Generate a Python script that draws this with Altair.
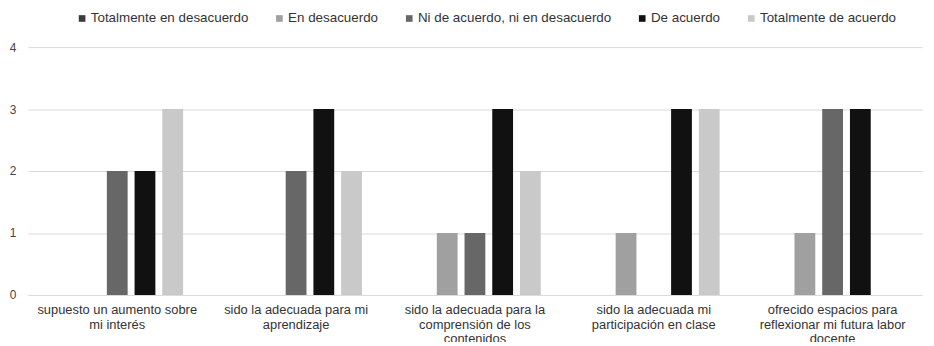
import altair as alt
import pandas as pd

categories = [
    "supuesto un aumento sobre\nmi interés",
    "sido la adecuada para mi\naprendizaje",
    "sido la adecuada para la\ncomprensión de los\ncontenidos",
    "sido la adecuada mi\nparticipación en clase",
    "ofrecido espacios para\nreflexionar mi futura labor\ndocente",
]
series = [
    "Totalmente en desacuerdo",
    "En desacuerdo",
    "Ni de acuerdo, ni en desacuerdo",
    "De acuerdo",
    "Totalmente de acuerdo",
]
colors = ["#3a3a3a", "#a0a0a0", "#676767", "#111111", "#c9c9c9"]
y_ticks = [0, 1, 2, 3, 4]

totalmente_en_desacuerdo = [0, 0, 0, 0, 0]
en_desacuerdo = [0, 0, 1, 1, 1]
ni_de_acuerdo = [2, 2, 1, 0, 3]
de_acuerdo = [2, 3, 3, 3, 3]
totalmente_de_acuerdo = [3, 2, 2, 3, 0]

values = [totalmente_en_desacuerdo, en_desacuerdo, ni_de_acuerdo, de_acuerdo, totalmente_de_acuerdo]
rows = []
for s, vals in zip(series, values):
    for c, v in zip(categories, vals):
        rows.append({"cat": c, "serie": s, "valor": v})
df = pd.DataFrame(rows)

font = "Liberation Sans"

chart = alt.Chart(df).mark_bar().encode(
    x=alt.X("cat:N", sort=categories, title=None,
            scale=alt.Scale(paddingInner=0, paddingOuter=0),
            axis=alt.Axis(labelAngle=0, ticks=False, domain=False,
                          labelExpr="split(datum.label, '\\n')",
                          labelFont=font, labelFontSize=13, labelColor="#333333",
                          labelPadding=9, labelLineHeight=14.5, labelLimit=220)),
    xOffset=alt.XOffset("serie:N", sort=series,
                        scale=alt.Scale(paddingInner=0.25, paddingOuter=0.85)),
    y=alt.Y("valor:Q", title=None,
            scale=alt.Scale(domain=[0, 4], nice=False),
            axis=alt.Axis(values=y_ticks, ticks=False, domain=False,
                          labelOverlap=False,
                          gridColor="#d9d9d9", gridWidth=1,
                          labelFont=font, labelFontSize=12, labelColor="#444444",
                          labelPadding=12)),
    color=alt.Color("serie:N", sort=series, title=None,
                    scale=alt.Scale(domain=series, range=colors),
                    legend=alt.Legend(orient="none", direction="horizontal",
                                      legendX=48, legendY=-36,
                                      symbolType="square", symbolSize=45,
                                      symbolStrokeWidth=0, labelOffset=2,
                                      columnPadding=24, labelLimit=300,
                                      labelFont=font, labelFontSize=13.5,
                                      labelColor="#333333")),
).properties(
    width=902, height=250,
    autosize=alt.AutoSizeParams(type="none"),
    padding={"left": 20, "top": 38, "right": 4, "bottom": 46},
).configure_view(stroke=None)

chart.save("out.html", embed_options={"renderer": "svg", "actions": False})
